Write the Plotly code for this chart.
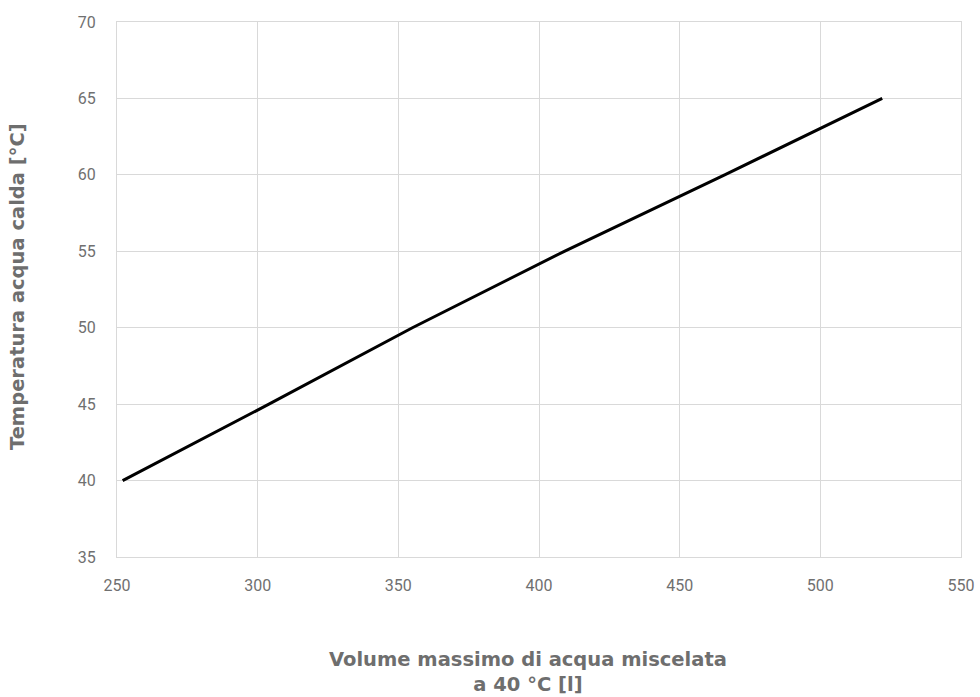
import plotly.graph_objects as go

volume_l = [252, 304, 355, 409, 466, 522]
temperature_c = [40, 45, 50, 55, 60, 65]
x_ticks = [250, 300, 350, 400, 450, 500, 550]
y_ticks = [35, 40, 45, 50, 55, 60, 65, 70]

fig = go.Figure()
fig.add_trace(go.Scatter(x=volume_l, y=temperature_c, mode="lines",
                         line=dict(color="#000000", width=3), showlegend=False))

grid = "#d9d9d9"
tickfont = dict(family="Roboto, Arial, sans-serif", size=16, color="#707070")
fig.update_xaxes(range=[250, 550], tickvals=x_ticks, showgrid=True, gridcolor=grid, gridwidth=1,
                 showline=True, linecolor=grid, linewidth=1, mirror=True, zeroline=False,
                 tickfont=tickfont, ticks="", ticklabelstandoff=14, automargin=False)
fig.update_yaxes(range=[35, 70], tickvals=y_ticks, showgrid=True, gridcolor=grid, gridwidth=1,
                 showline=True, linecolor=grid, linewidth=1, mirror=True, zeroline=False,
                 tickfont=tickfont, ticks="", ticklabelstandoff=17, automargin=False)

titlefont = dict(family="'DejaVu Sans', sans-serif", size=19.5, color="#6e6e6e")
fig.update_layout(
    width=980, height=697, plot_bgcolor="white", paper_bgcolor="white",
    margin=dict(l=117, r=19, t=22, b=140),
    annotations=[
        dict(text="<b>Volume massimo di acqua miscelata<br>a 40 °C [l]</b>", xref="paper", yref="paper",
             x=0.487, y=-0.167, xanchor="center", yanchor="top", showarrow=False, font=titlefont),
        dict(text="<b>Temperatura acqua calda [°C]</b>", xref="paper", yref="paper",
             x=-0.117, y=0.505, xanchor="center", yanchor="middle", textangle=-90,
             showarrow=False, font=titlefont),
    ],
)
fig.write_html("out.html", config={"displayModeBar": False},
               post_script="document.body.style.margin='0';document.body.style.overflow='hidden';")
